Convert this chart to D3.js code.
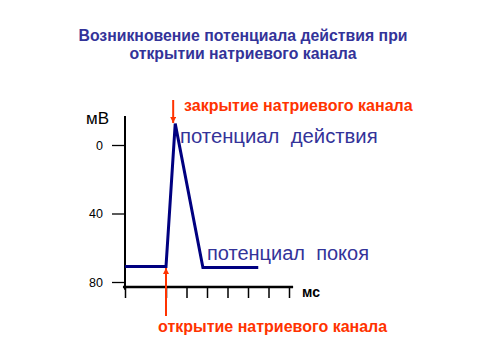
<!DOCTYPE html>
<html><head><meta charset="utf-8">
<script src="https://cdn.jsdelivr.net/npm/d3@7"></script>
<style>body{margin:0;background:#fff}svg{display:block;font-family:Arial,"Liberation Sans",sans-serif}</style>
</head><body>
<script>
const titleLines = ["Возникновение потенциала действия при", "открытии натриевого канала"];
const timeMs = [0, 2, 2.45, 3.8, 6.5];
const potential = [71, 71, -12.5, 71.5, 71.5];
const yTicks = [0, 40, 80];
const xTicks = [0, 2, 3, 4, 5, 6, 7, 8];
const yUnit = "мВ";
const xUnit = "мс";
const apLabel = "потенциал  действия";
const restLabel = "потенциал  покоя";
const closeLabel = "закрытие натриевого канала";
const openLabel = "открытие натриевого канала";
const closeArrowT = 2.35;
const openArrowT = 2.0;

const W = 480, H = 360;
const svg = d3.select("body").append("svg").attr("width", W).attr("height", H);
const x = d3.scaleLinear().domain([0, 8]).range([125, 289]);
const y = d3.scaleLinear().domain([0, 80]).range([145, 282]);
const titleC = "#333399", lineC = "#000080", redC = "#ff3300";

svg.append("g").selectAll("text").data(titleLines).join("text")
  .attr("x", 243).attr("y", (d, i) => 41 + i * 18)
  .attr("text-anchor", "middle").attr("font-weight", "bold").attr("font-size", 15.8)
  .attr("fill", titleC).text(d => d);

// y axis
const ya = svg.append("g").attr("transform", `translate(${x(0)},0)`)
  .call(d3.axisLeft(y).tickValues(yTicks).tickSize(13).tickPadding(9).tickSizeOuter(0));
ya.select(".domain").remove();
ya.selectAll(".tick line").attr("stroke", "#000").attr("stroke-width", 1.3);
ya.selectAll(".tick text").attr("font-size", 12.5).attr("fill", "#000").attr("font-family", "Arial,'Liberation Sans',sans-serif");
svg.append("line").attr("x1", x(0)).attr("x2", x(0)).attr("y1", y(-17)).attr("y2", y(84.5))
  .attr("stroke", "#000").attr("stroke-width", 2);

// x axis
const xa = svg.append("g").attr("transform", `translate(0,287)`)
  .call(d3.axisBottom(x).tickValues(xTicks).tickSize(11).tickFormat("").tickSizeOuter(0));
xa.select(".domain").remove();
xa.selectAll(".tick line").attr("stroke", "#000").attr("stroke-width", 1.5);
svg.append("line").attr("x1", x(-0.1)).attr("x2", x(8.2)).attr("y1", 287).attr("y2", 287)
  .attr("stroke", "#000").attr("stroke-width", 2.5);

svg.append("text").attr("x", 86).attr("y", 124).attr("font-size", 17).attr("fill", "#000").text(yUnit);
svg.append("text").attr("x", 302).attr("y", 297).attr("font-size", 14).attr("font-weight", "bold").attr("fill", "#000").text(xUnit);

// potential line
const pts = timeMs.map((t, i) => [t, potential[i]]);
svg.append("path").datum(pts)
  .attr("d", d3.line().x(d => x(d[0])).y(d => y(d[1])))
  .attr("fill", "none").attr("stroke", lineC).attr("stroke-width", 3).attr("stroke-linejoin", "miter");

svg.append("text").attr("x", 180).attr("y", 143).attr("font-size", 20.3).attr("fill", titleC)
  .style("white-space", "pre").text(apLabel);
svg.append("text").attr("x", 207).attr("y", 260).attr("font-size", 20).attr("fill", titleC)
  .style("white-space", "pre").text(restLabel);

// arrows
const defs = svg.append("defs");
defs.append("marker").attr("id", "ah").attr("viewBox", "0 0 10 10").attr("refX", 10).attr("refY", 5)
  .attr("markerWidth", 3.2).attr("markerHeight", 3.2).attr("orient", "auto")
  .attr("markerUnits", "strokeWidth")
  .append("path").attr("d", "M0,0L10,5L0,10z").attr("fill", redC);
svg.append("line").attr("x1", x(closeArrowT)).attr("x2", x(closeArrowT)).attr("y1", 100).attr("y2", 123)
  .attr("stroke", redC).attr("stroke-width", 2).attr("marker-end", "url(#ah)");
svg.append("line").attr("x1", x(openArrowT)).attr("x2", x(openArrowT)).attr("y1", 316).attr("y2", 268)
  .attr("stroke", redC).attr("stroke-width", 2).attr("marker-end", "url(#ah)");

svg.append("text").attr("x", 184).attr("y", 111).attr("font-size", 16).attr("font-weight", "bold").attr("fill", redC).text(closeLabel);
svg.append("text").attr("x", 158).attr("y", 332).attr("font-size", 16).attr("font-weight", "bold").attr("fill", redC).text(openLabel);
</script>
</body></html>
